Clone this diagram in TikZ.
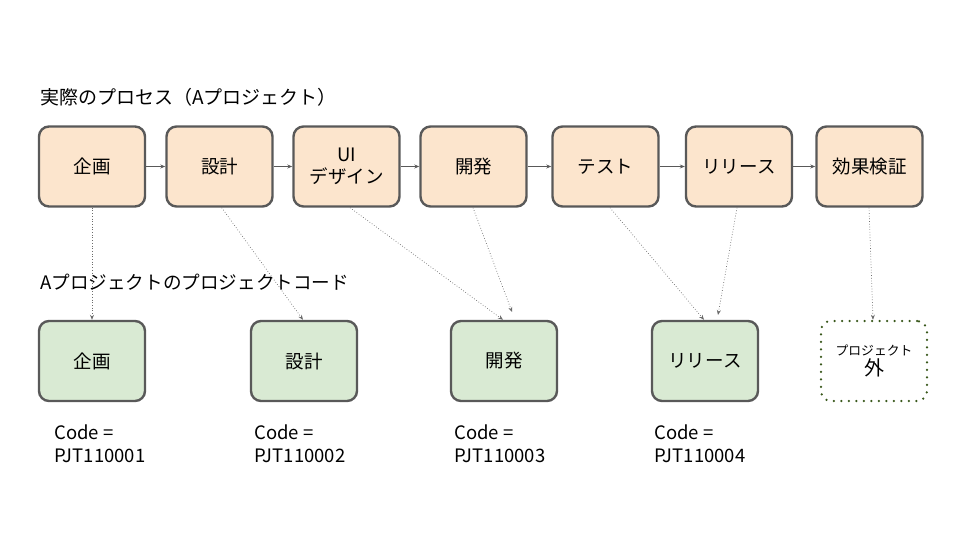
\documentclass[tikz,border=0pt]{standalone}
\usepackage{fontspec}
\setmainfont{Noto Sans CJK JP}
\usetikzlibrary{arrows.meta}
\definecolor{peach}{HTML}{FCE5CD}
\definecolor{mint}{HTML}{D9EAD3}
\definecolor{edge}{HTML}{595959}
\definecolor{olive}{HTML}{38571A}
\tikzset{
  procbox/.style={draw=edge, line width=2.4pt, rounded corners=10pt, fill=peach, minimum width=106pt, minimum height=80pt, align=center, font=\fontsize{18.5}{22}\selectfont, inner sep=0pt},
  codebox/.style={procbox, fill=mint},
  outbox/.style={draw=olive, line width=2.5pt, dash pattern=on 0pt off 7.5pt, line cap=round, rounded corners=10pt, fill=white, minimum width=106pt, minimum height=80pt, align=center, inner sep=0pt},
  flow/.style={draw=edge, line width=0.9pt, -{Stealth[length=5pt,width=4pt]}},
  maplink/.style={draw=gray!85!black, line width=0.7pt, dotted, -{Stealth[length=5pt,width=4pt]}},
  lbl/.style={anchor=west, inner sep=0pt},
  codelbl/.style={anchor=north west, inner sep=0pt, align=left, font=\fontsize{18.5}{23}\selectfont}
}
\begin{document}
\begin{tikzpicture}[x=1pt,y=-1pt]
\useasboundingbox (0,0) rectangle (960,540);
\node[lbl, font=\fontsize{19}{22}\selectfont] (t1) at (40,97) {実際のプロセス（Aプロジェクト）};
\node[lbl, font=\fontsize{18.6}{22}\selectfont] (t2) at (40,282) {Aプロジェクトのプロジェクトコード};

\node[procbox] (p1) at (92,166.5) {企画};
\node[procbox] (p2) at (219.5,166.5) {設計};
\node[procbox] (p3) at (346.5,166.5) {UI\\デザイン};
\node[procbox] (p4) at (473.5,166.5) {開発};
\node[procbox] (p5) at (605.5,166.5) {テスト};
\node[procbox] (p6) at (739,166.5) {リリース};
\node[procbox] (p7) at (869.5,166.5) {効果検証};

\draw[flow] (p1) -- (p2);
\draw[flow] (p2) -- (p3);
\draw[flow] (p3) -- (p4);
\draw[flow] (p4) -- (p5);
\draw[flow] (p5) -- (p6);
\draw[flow] (p6) -- (p7);

\node[codebox] (c1) at (92,361) {企画};
\node[codebox] (c2) at (304,361) {設計};
\node[codebox] (c3) at (504,361) {開発};
\node[codebox] (c4) at (705,361) {リリース};
\node[outbox] (c5) at (874,361) {{\fontsize{12.8}{15}\selectfont プロジェクト}\\[1pt]{\fontsize{20}{21}\selectfont 外}};

\coordinate (e3b) at (512,312);
\coordinate (e4b) at (718,315);
\draw[maplink] (p1.south) -- (c1.north);
\draw[maplink] (p2.south -| 221.7,0) -- (c2.north -| 303,0);
\draw[maplink] (p3.south -| 350,0) -- (c3.north -| 503,0);
\draw[maplink] (p4.south -| 473,0) -- (e3b);
\draw[maplink] (p5.south -| 610,0) -- (c4.north -| 704,0);
\draw[maplink] (p6.south -| 737,0) -- (e4b);
\draw[maplink] (p7.south -| 869,0) -- (c5.north -| 873,0);

\node[codelbl] (k1) at (54,425) {Code =\\PJT110001};
\node[codelbl] (k2) at (254,425) {Code =\\PJT110002};
\node[codelbl] (k3) at (454,425) {Code =\\PJT110003};
\node[codelbl] (k4) at (654,425) {Code =\\PJT110004};
\end{tikzpicture}
\end{document}
